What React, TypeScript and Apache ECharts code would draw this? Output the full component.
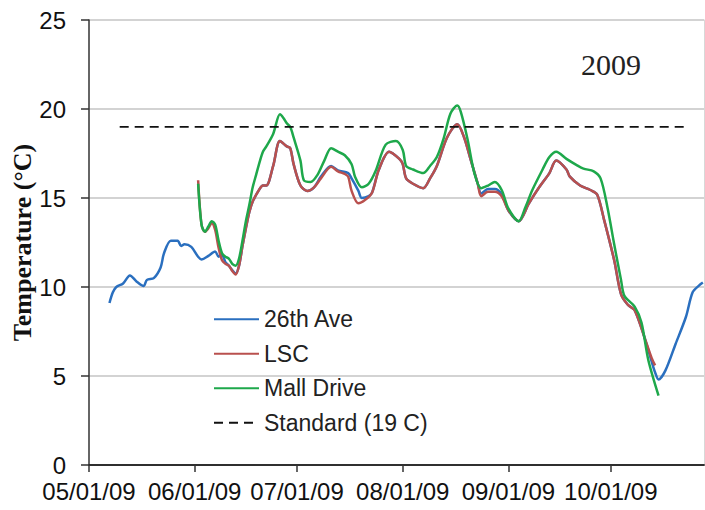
import React, { useEffect, useRef } from "react";
import * as echarts from "echarts";

type Point = [string, number];

// 26th Ave sensor (blue)
const ave26th: Point[] = [
  ["2009-05-07", 9.1], ["2009-05-08", 9.7], ["2009-05-09", 10.0], ["2009-05-11", 10.2],
  ["2009-05-13", 10.65], ["2009-05-15", 10.3], ["2009-05-17", 10.05], ["2009-05-18", 10.4],
  ["2009-05-20", 10.5], ["2009-05-22", 11.1], ["2009-05-23", 11.9], ["2009-05-25", 12.6],
  ["2009-05-27", 12.6], ["2009-05-28", 12.3], ["2009-05-29", 12.4], ["2009-05-31", 12.25],
  ["2009-06-02", 11.7], ["2009-06-03", 11.55], ["2009-06-05", 11.75], ["2009-06-07", 12.0],
  ["2009-06-08", 11.7], ["2009-06-09", 11.8], ["2009-06-10", 11.4], ["2009-06-11", 11.2],
  ["2009-06-12", 10.95], ["2009-06-13", 10.75], ["2009-06-14", 11.2], ["2009-06-15", 12.3],
  ["2009-06-16", 13.3], ["2009-06-17", 14.2], ["2009-06-18", 14.8], ["2009-06-20", 15.5],
  ["2009-06-21", 15.7], ["2009-06-22", 15.7], ["2009-06-24", 16.8], ["2009-06-26", 18.2],
  ["2009-06-28", 17.9], ["2009-06-29", 17.8], ["2009-06-30", 16.9], ["2009-07-02", 15.7],
  ["2009-07-04", 15.4], ["2009-07-06", 15.6], ["2009-07-08", 16.2], ["2009-07-11", 16.8],
  ["2009-07-13", 16.55], ["2009-07-16", 16.4], ["2009-07-17", 16.1], ["2009-07-19", 15.4],
  ["2009-07-20", 15.0], ["2009-07-22", 15.1], ["2009-07-23", 15.3], ["2009-07-25", 16.6],
  ["2009-07-28", 17.6], ["2009-07-31", 17.2], ["2009-08-01", 16.9], ["2009-08-02", 16.1],
  ["2009-08-04", 15.8], ["2009-08-07", 15.55], ["2009-08-09", 16.1], ["2009-08-11", 16.8],
  ["2009-08-14", 18.4], ["2009-08-17", 19.15], ["2009-08-19", 18.4], ["2009-08-21", 17.1],
  ["2009-08-23", 15.8], ["2009-08-24", 15.25], ["2009-08-26", 15.5], ["2009-08-28", 15.5],
  ["2009-08-30", 15.2], ["2009-09-01", 14.3], ["2009-09-04", 13.7], ["2009-09-07", 14.7],
  ["2009-09-10", 15.6], ["2009-09-13", 16.4], ["2009-09-15", 17.1], ["2009-09-18", 16.6],
  ["2009-09-19", 16.2], ["2009-09-22", 15.7], ["2009-09-25", 15.45], ["2009-09-27", 15.2],
  ["2009-09-29", 13.8], ["2009-10-02", 11.5], ["2009-10-04", 9.6], ["2009-10-06", 9.0],
  ["2009-10-08", 8.7], ["2009-10-11", 7.1], ["2009-10-13", 5.8], ["2009-10-14", 5.2],
  ["2009-10-15", 4.8], ["2009-10-17", 5.3], ["2009-10-20", 6.8], ["2009-10-23", 8.3],
  ["2009-10-25", 9.7], ["2009-10-27", 10.1], ["2009-10-28", 10.25],
];

// LSC sensor (red)
const lsc: Point[] = [
  ["2009-06-02", 16.0], ["2009-06-03", 13.5], ["2009-06-04", 13.1], ["2009-06-05", 13.3],
  ["2009-06-06", 13.6], ["2009-06-07", 13.2], ["2009-06-08", 12.2], ["2009-06-09", 11.5],
  ["2009-06-10", 11.3], ["2009-06-11", 11.2], ["2009-06-12", 10.9], ["2009-06-13", 10.7],
  ["2009-06-14", 11.2], ["2009-06-15", 12.3], ["2009-06-16", 13.3], ["2009-06-17", 14.2],
  ["2009-06-18", 14.8], ["2009-06-20", 15.5], ["2009-06-21", 15.7], ["2009-06-22", 15.7],
  ["2009-06-24", 16.8], ["2009-06-26", 18.2], ["2009-06-28", 17.9], ["2009-06-29", 17.8],
  ["2009-06-30", 16.9], ["2009-07-02", 15.7], ["2009-07-04", 15.4], ["2009-07-06", 15.6],
  ["2009-07-08", 16.1], ["2009-07-11", 16.75], ["2009-07-13", 16.5], ["2009-07-15", 16.35],
  ["2009-07-16", 16.2], ["2009-07-17", 15.4], ["2009-07-19", 14.7], ["2009-07-21", 14.9],
  ["2009-07-23", 15.3], ["2009-07-25", 16.6], ["2009-07-28", 17.6], ["2009-07-31", 17.2],
  ["2009-08-01", 16.9], ["2009-08-02", 16.1], ["2009-08-04", 15.8], ["2009-08-07", 15.55],
  ["2009-08-09", 16.1], ["2009-08-11", 16.8], ["2009-08-14", 18.4], ["2009-08-17", 19.15],
  ["2009-08-19", 18.4], ["2009-08-21", 17.1], ["2009-08-23", 15.8], ["2009-08-24", 15.1],
  ["2009-08-26", 15.35], ["2009-08-28", 15.35], ["2009-08-30", 15.1], ["2009-09-01", 14.3],
  ["2009-09-04", 13.7], ["2009-09-07", 14.7], ["2009-09-10", 15.6], ["2009-09-13", 16.4],
  ["2009-09-15", 17.1], ["2009-09-18", 16.6], ["2009-09-19", 16.2], ["2009-09-22", 15.7],
  ["2009-09-25", 15.45], ["2009-09-27", 15.2], ["2009-09-29", 13.8], ["2009-10-02", 11.5],
  ["2009-10-04", 9.6], ["2009-10-06", 9.0], ["2009-10-08", 8.7], ["2009-10-11", 7.1],
  ["2009-10-13", 6.0], ["2009-10-14", 5.6],
];

// Mall Drive sensor (green)
const mallDrive: Point[] = [
  ["2009-06-02", 15.8], ["2009-06-03", 13.5], ["2009-06-04", 13.1], ["2009-06-05", 13.4],
  ["2009-06-06", 13.7], ["2009-06-07", 13.5], ["2009-06-08", 12.6], ["2009-06-09", 11.9],
  ["2009-06-10", 11.7], ["2009-06-11", 11.6], ["2009-06-12", 11.3], ["2009-06-13", 11.2],
  ["2009-06-14", 11.6], ["2009-06-15", 12.6], ["2009-06-16", 13.7], ["2009-06-17", 14.6],
  ["2009-06-18", 15.6], ["2009-06-19", 16.3], ["2009-06-20", 17.0], ["2009-06-21", 17.6],
  ["2009-06-22", 17.9], ["2009-06-24", 18.6], ["2009-06-26", 19.7], ["2009-06-27", 19.5],
  ["2009-06-28", 19.2], ["2009-06-29", 19.0], ["2009-06-30", 18.4], ["2009-07-02", 17.1],
  ["2009-07-03", 16.0], ["2009-07-05", 15.9], ["2009-07-07", 16.3], ["2009-07-09", 17.1],
  ["2009-07-11", 17.8], ["2009-07-13", 17.6], ["2009-07-15", 17.4], ["2009-07-17", 16.9],
  ["2009-07-18", 16.2], ["2009-07-20", 15.6], ["2009-07-22", 15.8], ["2009-07-24", 16.5],
  ["2009-07-27", 18.0], ["2009-07-30", 18.2], ["2009-08-01", 17.7], ["2009-08-02", 16.8],
  ["2009-08-04", 16.6], ["2009-08-07", 16.4], ["2009-08-09", 16.8], ["2009-08-11", 17.3],
  ["2009-08-13", 18.35], ["2009-08-15", 19.75], ["2009-08-17", 20.2], ["2009-08-18", 19.85],
  ["2009-08-20", 18.3], ["2009-08-22", 16.4], ["2009-08-24", 15.55], ["2009-08-26", 15.7],
  ["2009-08-28", 15.9], ["2009-08-30", 15.45], ["2009-09-01", 14.4], ["2009-09-04", 13.7],
  ["2009-09-06", 14.5], ["2009-09-08", 15.45], ["2009-09-11", 16.6], ["2009-09-13", 17.3],
  ["2009-09-15", 17.6], ["2009-09-18", 17.2], ["2009-09-21", 16.85], ["2009-09-23", 16.65],
  ["2009-09-26", 16.5], ["2009-09-28", 16.1], ["2009-09-30", 14.5], ["2009-10-02", 12.4],
  ["2009-10-04", 10.4], ["2009-10-05", 9.5], ["2009-10-08", 8.9], ["2009-10-10", 8.0],
  ["2009-10-12", 5.9], ["2009-10-15", 3.9],
];

// 19 C standard (dashed)
const standard: Point[] = [["2009-05-10", 19], ["2009-10-24", 19]];

const monthTicks = ["2009-05-01", "2009-06-01", "2009-07-01", "2009-08-01", "2009-09-01", "2009-10-01"];

const toTime = (s: string) => {
  const [y, m, d] = s.split("-").map(Number);
  return new Date(y, m - 1, d).getTime();
};

const fmtDate = (v: number) => {
  const d = new Date(v);
  const p = (n: number) => String(n).padStart(2, "0");
  return `${p(d.getMonth() + 1)}/${p(d.getDate())}/${p(d.getFullYear() % 100)}`;
};

const SANS = "'Liberation Sans', Arial, sans-serif";
const SERIF = "'Liberation Serif', 'Times New Roman', serif";

export default function App() {
  const chartRef = useRef<HTMLDivElement>(null);

  useEffect(() => {
    if (!chartRef.current) return;
    const chart = echarts.init(chartRef.current, undefined, { renderer: "svg" });
    const xMin = toTime("2009-05-01");
    const xMax = toTime("2009-10-28") + 8 * 3600 * 1000;
    const tickValues = monthTicks.map(toTime);

    const lineSeries = (name: string, data: Point[], color: string, z: number) => ({
      name,
      type: "line" as const,
      data: data.map(([d, v]) => [toTime(d), v]),
      symbol: "none",
      smooth: 0.3,
      z,
      lineStyle: { color, width: 2.5 },
      itemStyle: { color },
    });

    chart.setOption({
      animation: false,
      title: {
        text: "2009",
        left: 576,
        top: 44,
        textStyle: { fontFamily: SERIF, fontSize: 30, fontWeight: "normal", color: "#222" },
      },
      legend: {
        orient: "vertical",
        left: 208,
        top: 302,
        itemWidth: 45,
        itemHeight: 14,
        itemGap: 10,
        textStyle: { fontFamily: SANS, fontSize: 23, lineHeight: 24.5, color: "#222" },
        itemStyle: { opacity: 0 },
        lineStyle: { width: 2 },
        data: ["26th Ave", "LSC", "Mall Drive", "Standard (19 C)"],
      },
      grid: { left: 89, top: 20, right: 1, bottom: 45, outerBoundsMode: "none" },
      xAxis: [
        {
          type: "value",
          min: xMin,
          max: xMax,
          axisLine: { lineStyle: { color: "#333", width: 1.5 } },
          axisTick: { show: true, inside: false, length: 7, lineStyle: { color: "#333", width: 1.5 }, customValues: tickValues },
          axisLabel: {
            customValues: tickValues,
            formatter: (v: number) => fmtDate(v),
            fontFamily: SANS,
            fontSize: 24,
            color: "#111",
            margin: 14,
          },
          splitLine: { show: false },
        },
        {
          type: "value",
          position: "top",
          min: xMin,
          max: xMax,
          axisLine: { lineStyle: { color: "#222", width: 1.5 } },
          axisTick: { show: false },
          axisLabel: { show: false },
          splitLine: { show: false },
        },
      ],
      yAxis: [
        {
          type: "value",
          min: 0,
          max: 25,
          interval: 5,
          name: "Temperature (°C)",
          nameLocation: "middle",
          nameGap: 54,
          nameMoveOverlap: false,
          nameTextStyle: { fontFamily: SERIF, fontSize: 26, fontWeight: "bold", color: "#111" },
          axisLine: { show: true, lineStyle: { color: "#333", width: 1.5 } },
          axisTick: { show: true, inside: false, length: 8, lineStyle: { color: "#333", width: 1.5 } },
          axisLabel: { fontFamily: SANS, fontSize: 24, color: "#111", margin: 23 },
          splitLine: { show: true, lineStyle: { color: "#c4c4c4", width: 1.5 } },
        },
        {
          type: "value",
          position: "right",
          min: 0,
          max: 25,
          interval: 5,
          axisLine: { show: true, lineStyle: { color: "#d8d8d8", width: 1 } },
          axisTick: { show: false },
          axisLabel: { show: false },
          splitLine: { show: false },
        },
      ],
      series: [
        lineSeries("26th Ave", ave26th, "#2a6fbf", 2),
        lineSeries("LSC", lsc, "#b9504e", 3),
        lineSeries("Mall Drive", mallDrive, "#1ea84b", 4),
        {
          name: "Standard (19 C)",
          type: "line",
          data: standard.map(([d, v]) => [toTime(d), v]),
          symbol: "none",
          z: 5,
          lineStyle: { color: "#111", width: 1.8, type: [9, 6] },
          itemStyle: { color: "#111" },
        },
      ],
    });

    return () => chart.dispose();
  }, []);

  return (
    <div
      ref={chartRef}
      style={{ position: "absolute", left: 0, top: 0, width: "705px", height: "510px", background: "#fff" }}
    />
  );
}
